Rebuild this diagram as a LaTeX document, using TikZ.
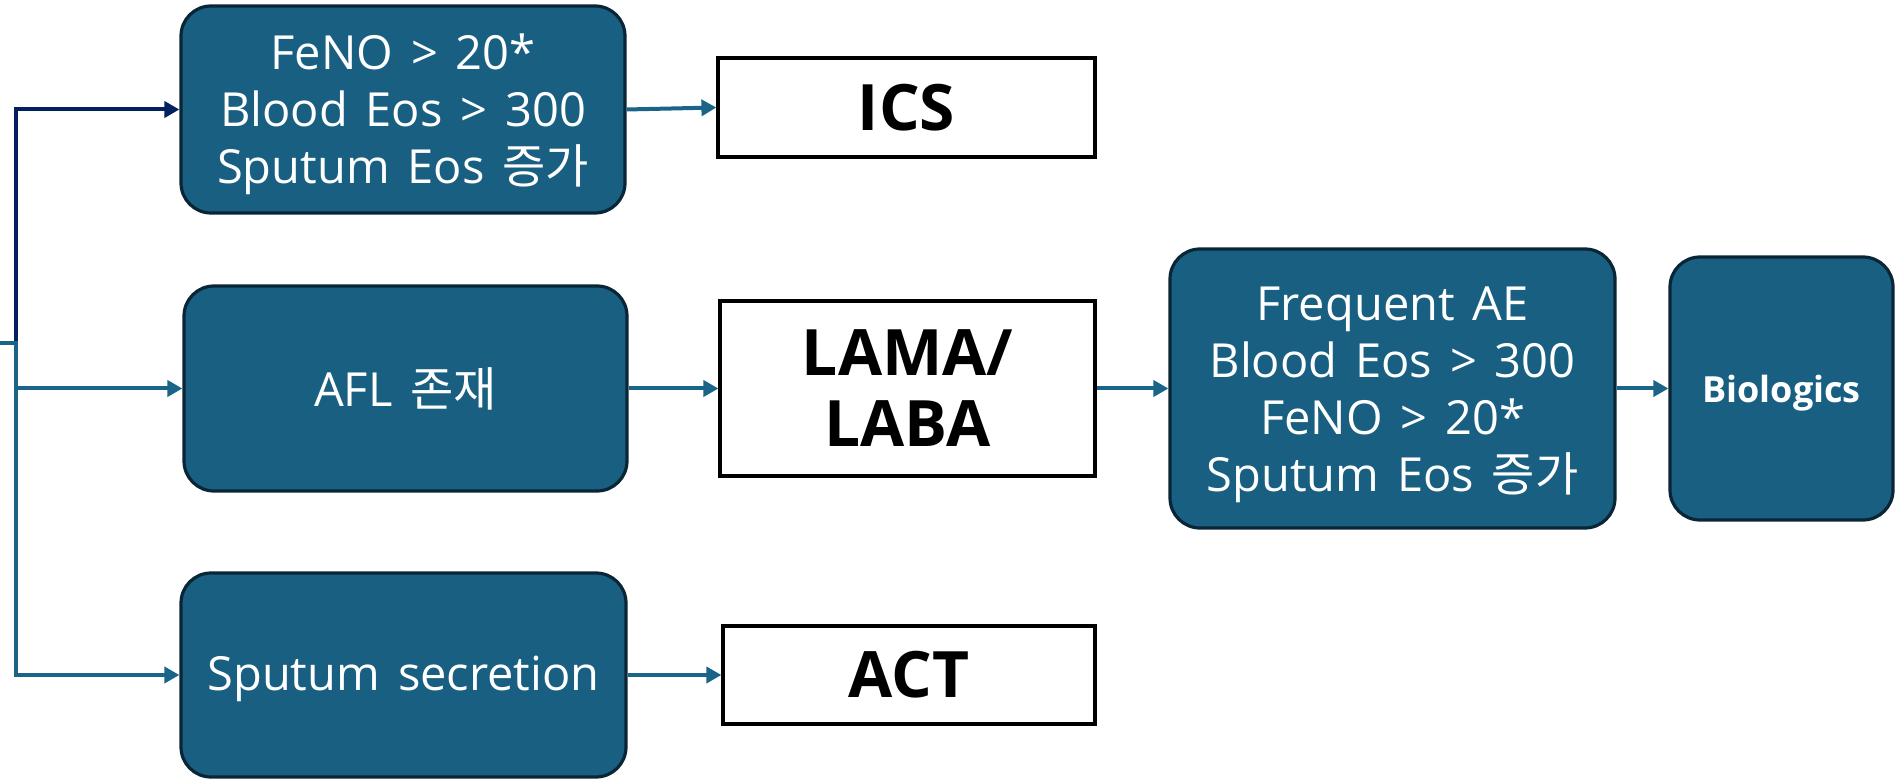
\documentclass[tikz,border=0pt]{standalone}
\usepackage{fontspec}
\setmainfont{Open Sans}
\newfontfamily\kr{Noto Sans CJK KR}
\usetikzlibrary{arrows.meta}
\definecolor{boxfill}{RGB}{24,95,130}
\definecolor{boxline}{RGB}{10,38,54}
\definecolor{linkteal}{RGB}{26,100,136}
\definecolor{linknavy}{RGB}{0,32,96}
% multi-line label, drawn a little lower than its box centre
\newcommand\lowtext[2]{\raisebox{-#1}[\height][\depth]{\begin{tabular}{@{}c@{}}#2\end{tabular}}}
\newcommand\widespaces{\spaceskip=0.38em plus 0.1em\relax}
\tikzset{
  cond/.style={draw=boxline, line width=1.6pt, fill=boxfill, rounded corners=15pt,
    text=white, align=center, inner sep=0pt,
    font=\fontsize{23.5}{28.5}\selectfont,
    execute at begin node=\widespaces},
  treat/.style={draw=black, line width=1.6pt, fill=white, align=center, inner sep=0pt,
    font=\fontsize{32}{35.5}\selectfont\bfseries},
  link/.style={draw=linkteal, line width=2pt, -{Triangle[length=7.5pt,width=8pt]}},
}
\begin{document}
\begin{tikzpicture}[x=0.5pt,y=-0.5pt]
\useasboundingbox (0,0) rectangle (1895,780);

% condition boxes
\node[cond, minimum width=222pt, minimum height=103.5pt] (eos) at (403,109.5)
  {\lowtext{3pt}{FeNO > 20*\\Blood Eos > 300\\Sputum Eos {\kr 증가}}};
\node[cond, minimum width=221.5pt, minimum height=102.5pt] (afl) at (405.5,388.5)
  {AFL {\kr 존재}};
\node[cond, minimum width=222.5pt, minimum height=102pt] (sput) at (403.5,675)
  {\lowtext{2pt}{Sputum secretion}};
\node[cond, minimum width=222.5pt, minimum height=139.5pt] (freq) at (1392.5,388.5)
  {\lowtext{3pt}{Frequent AE\\Blood Eos > 300\\FeNO > 20*\\Sputum Eos {\kr 증가}}};
\node[cond, minimum width=111.5pt, minimum height=131.5pt,
  font=\fontsize{18}{21}\selectfont\bfseries] (bio) at (1781.5,388.5) {\lowtext{3pt}{Biologics}};

% treatment boxes
\node[treat, minimum width=188.5pt, minimum height=49.5pt] (ics) at (906.5,107.5) {ICS};
\node[treat, minimum width=187.5pt, minimum height=87.5pt] (lama) at (907.5,388.5) {LAMA/\\LABA};
\node[treat, minimum width=186pt, minimum height=49pt] (act) at (909,675) {ACT};

% branching trunk on the left
\coordinate (src) at (0,343);
\coordinate (trunk) at (16,343);
\draw[link, draw=linknavy] (trunk) |- (eos.west);
\draw[link] (src) -- (trunk) |- (sput.west);
\draw[link] (trunk |- afl.west) -- (afl.west);

% forward connectors
\draw[link] (eos.east) -- (ics.west);
\draw[link] (afl.east) -- (lama.west);
\draw[link] (lama.east) -- (freq.west);
\draw[link] (freq.east) -- (bio.west);
\draw[link] (sput.east) -- (act.west);
\end{tikzpicture}
\end{document}
